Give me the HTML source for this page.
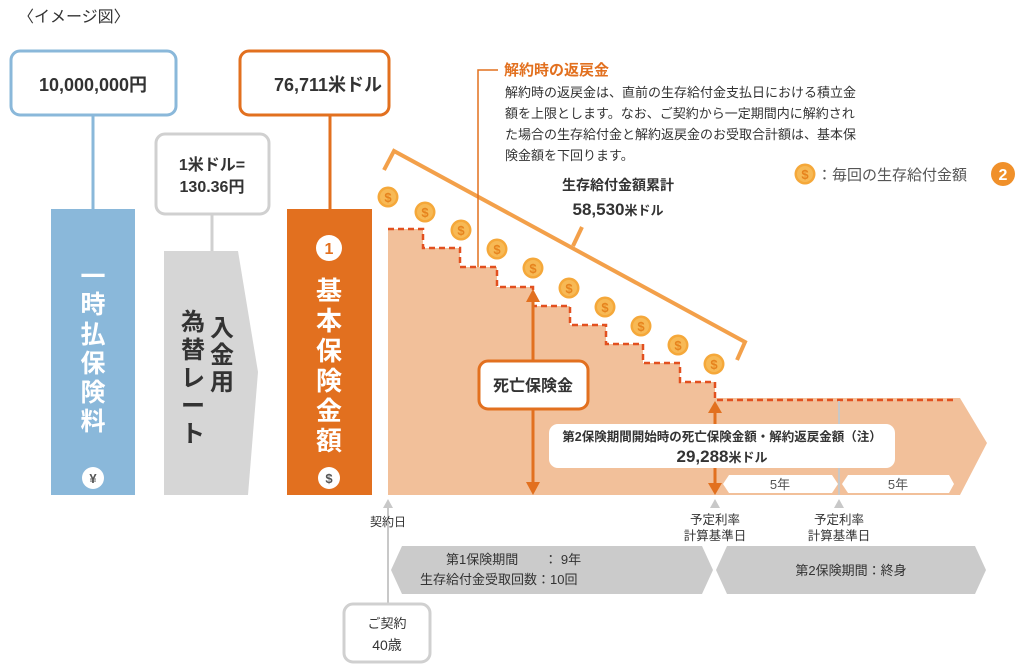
<!DOCTYPE html>
<html><head><meta charset="utf-8"><style>
body{margin:0;background:#fff}
svg{display:block;font-family:"Liberation Sans","Noto Sans CJK JP",sans-serif}
</style></head><body>
<svg width="1024" height="670" viewBox="0 0 1024 670" xmlns="http://www.w3.org/2000/svg">
<defs>
<g id="coin"><circle r="10.5" fill="#f5a83a"/><circle r="8" fill="#f7b955"/><text y="5" text-anchor="middle" font-size="13" font-weight="bold" fill="#e6831d">$</text></g>
</defs>
<text x="18" y="22" font-size="16" fill="#333">〈イメージ図〉</text>

<!-- blue -->
<rect x="11" y="51" width="165" height="64" rx="9" fill="#fff" stroke="#8ab8da" stroke-width="3"/>
<text x="93" y="91" font-size="18" font-weight="bold" fill="#333" text-anchor="middle">10,000,000円</text>
<line x1="93" y1="115" x2="93" y2="209" stroke="#8ab8da" stroke-width="3"/>
<rect x="51" y="209" width="84" height="286" fill="#8ab8da"/>
<g font-size="25" font-weight="bold" fill="#fff" text-anchor="middle">
<text x="93" y="285">一</text><text x="93" y="313">時</text><text x="93" y="343">払</text><text x="93" y="372">保</text><text x="93" y="401">険</text><text x="93" y="430">料</text>
</g>
<circle cx="93" cy="478" r="11" fill="#fff"/><text x="93" y="483" font-size="13" font-weight="bold" fill="#555" text-anchor="middle">¥</text>

<!-- grey -->
<rect x="156" y="134" width="113" height="80" rx="9" fill="#fff" stroke="#d0d0d0" stroke-width="3"/>
<text x="212" y="170" font-size="16" font-weight="bold" fill="#333" text-anchor="middle">1米ドル=</text>
<text x="212" y="192" font-size="16" font-weight="bold" fill="#333" text-anchor="middle">130.36円</text>
<line x1="212" y1="214" x2="212" y2="251" stroke="#d0d0d0" stroke-width="3"/>
<polygon points="164,251 238,251 258,372 248,495 164,495" fill="#d6d6d6"/>
<g font-size="24" font-weight="bold" fill="#333" text-anchor="middle">
<text x="222" y="336">入</text><text x="222" y="363">金</text><text x="222" y="390">用</text>
<text x="193" y="330">為</text><text x="193" y="358">替</text><text x="193" y="386">レ</text><text x="193" y="414">ー</text><text x="193" y="442">ト</text>
</g>

<!-- orange -->
<rect x="240" y="51" width="149" height="64" rx="9" fill="#fff" stroke="#e2701f" stroke-width="3"/>
<text x="328" y="91" font-size="18" font-weight="bold" fill="#333" text-anchor="middle">76,711米ドル</text>
<line x1="330" y1="115" x2="330" y2="209" stroke="#e2701f" stroke-width="3"/>
<rect x="287" y="209" width="85" height="286" fill="#e2701f"/>
<circle cx="329" cy="248" r="13" fill="#fff"/><text x="329" y="254" font-size="16" font-weight="bold" fill="#e2701f" text-anchor="middle">1</text>
<g font-size="26" font-weight="bold" fill="#fff" text-anchor="middle">
<text x="329" y="300">基</text><text x="329" y="330">本</text><text x="329" y="360">保</text><text x="329" y="390">険</text><text x="329" y="420">金</text><text x="329" y="450">額</text>
</g>
<circle cx="329" cy="478" r="11" fill="#fff"/><text x="329" y="483" font-size="13" font-weight="bold" fill="#555" text-anchor="middle">$</text>

<!-- peach area -->
<polygon points="388,229 423,229 423,248 460,248 460,267 497,267 497,287 533,287 533,306 570,306 570,325 606,325 606,344 643,344 643,363 680,363 680,382 715,382 715,398 960,398 987,443 960,495 388,495" fill="#f2c09a"/>
<polyline points="388,229 423,229 423,248 460,248 460,267 497,267 497,287 533,287 533,306 570,306 570,325 606,325 606,344 643,344 643,363 680,363 680,382 715,382 715,400 955,400" fill="none" stroke="#e2501f" stroke-width="2.5" stroke-dasharray="6,4"/>

<!-- bracket -->
<polyline points="384,170 394,151 745,342 737,360" fill="none" stroke="#f3a04a" stroke-width="4"/>
<line x1="573" y1="246" x2="582" y2="227" stroke="#f3a04a" stroke-width="4"/>
<text x="618" y="190" font-size="14" font-weight="bold" fill="#333" text-anchor="middle">生存給付金額累計</text>
<text x="618" y="215" font-size="17" font-weight="bold" fill="#333" text-anchor="middle">58,530<tspan font-size="13">米ドル</tspan></text>

<!-- coins -->
<use href="#coin" x="388" y="197"/><use href="#coin" x="425" y="212"/><use href="#coin" x="461" y="230"/><use href="#coin" x="497" y="249"/><use href="#coin" x="533" y="268"/><use href="#coin" x="569" y="288"/><use href="#coin" x="605" y="307"/><use href="#coin" x="641" y="326"/><use href="#coin" x="678" y="345"/><use href="#coin" x="714" y="364"/>

<!-- refund label -->
<polyline points="478,267 478,70 498,70" fill="none" stroke="#e2701f" stroke-width="1.5"/>
<text x="504" y="75" font-size="15" font-weight="bold" fill="#e2701f">解約時の返戻金</text>
<g font-size="13" fill="#333">
<text x="505" y="97">解約時の返戻金は、直前の生存給付金支払日における積立金</text>
<text x="505" y="118">額を上限とします。なお、ご契約から一定期間内に解約され</text>
<text x="505" y="139">た場合の生存給付金と解約返戻金のお受取合計額は、基本保</text>
<text x="505" y="160">険金額を下回ります。</text>
</g>

<!-- legend -->
<use href="#coin" x="805" y="174"/>
<text x="817" y="180" font-size="15" fill="#555">：毎回の生存給付金額</text>
<circle cx="1003" cy="174" r="12" fill="#f0902a"/><text x="1003" y="180" font-size="16" font-weight="bold" fill="#fff" text-anchor="middle">2</text>

<!-- death arrow -->
<line x1="533" y1="300" x2="533" y2="483" stroke="#e2701f" stroke-width="3"/>
<polygon points="533,289 526,302 540,302" fill="#e2701f"/>
<polygon points="533,495 526,482 540,482" fill="#e2701f"/>
<rect x="479" y="361" width="109" height="48" rx="9" fill="#fff" stroke="#e2701f" stroke-width="3"/>
<text x="533" y="391" font-size="16" font-weight="bold" fill="#333" text-anchor="middle">死亡保険金</text>

<!-- 715 arrow -->
<line x1="715" y1="410" x2="715" y2="485" stroke="#e2701f" stroke-width="3"/>
<polygon points="715,401 708,413 722,413 " fill="#e2701f"/>
<polygon points="715,495 708,483 722,483" fill="#e2701f"/>
<line x1="839" y1="401" x2="839" y2="495" stroke="#c8c8c8" stroke-width="2"/>
<rect x="549" y="424" width="346" height="44" rx="9" fill="#fff"/>
<text x="722" y="441" font-size="12.5" font-weight="bold" fill="#333" text-anchor="middle">第2保険期間開始時の死亡保険金額・解約返戻金額（注）</text>
<text x="722" y="462" font-size="17" font-weight="bold" fill="#333" text-anchor="middle">29,288<tspan font-size="13">米ドル</tspan></text>
<polygon points="729,475 832,475 838,484 832,493 729,493 723,484" fill="#fff"/>
<polygon points="848,475 949,475 954,484 949,493 848,493 842,484" fill="#fff"/>
<text x="780" y="489" font-size="13" fill="#555" text-anchor="middle">5年</text>
<text x="898" y="489" font-size="13" fill="#555" text-anchor="middle">5年</text>

<!-- timeline markers -->
<polygon points="388,499 383,508 393,508" fill="#c8c8c8"/>
<line x1="388" y1="506" x2="388" y2="604" stroke="#c8c8c8" stroke-width="2"/>
<text x="388" y="526" font-size="12" fill="#333" text-anchor="middle">契約日</text>
<polygon points="715,499 710,508 720,508" fill="#c8c8c8"/>
<polygon points="839,499 834,508 844,508" fill="#c8c8c8"/>
<g font-size="12.5" fill="#333" text-anchor="middle">
<text x="715" y="524">予定利率</text><text x="715" y="540">計算基準日</text>
<text x="839" y="524">予定利率</text><text x="839" y="540">計算基準日</text>
</g>

<!-- bottom bars -->
<polygon points="402,546 702,546 713,570 702,594 402,594 391,570" fill="#cbcbcb"/>
<polygon points="727,546 975,546 986,570 975,594 727,594 716,570" fill="#cbcbcb"/>
<g font-size="13" fill="#333">
<text x="446" y="564">第1保険期間　　：  9年</text>
<text x="420" y="584">生存給付金受取回数：10回</text>
<text x="851" y="575" text-anchor="middle">第2保険期間：終身</text>
</g>

<rect x="344" y="604" width="86" height="58" rx="9" fill="#fff" stroke="#d0d0d0" stroke-width="3"/>
<text x="387" y="628" font-size="13" fill="#333" text-anchor="middle">ご契約</text>
<text x="387" y="650" font-size="14" fill="#333" text-anchor="middle">40歳</text>
</svg>
</body></html>
